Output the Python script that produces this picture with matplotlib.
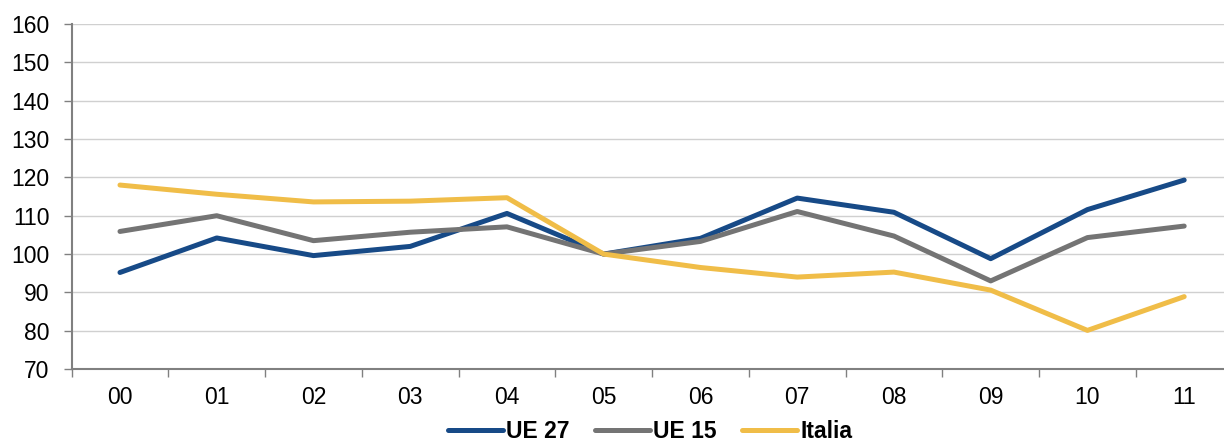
import numpy as np
import matplotlib
matplotlib.use("Agg")
from matplotlib import pyplot as plt

# dati
anni = ["00", "01", "02", "03", "04", "05", "06", "07", "08", "09", "10", "11"]
ue27 = [95.2, 104.2, 99.6, 102.0, 110.6, 100.0, 104.1, 114.6, 110.9, 98.8, 111.6, 119.3]
ue15 = [105.9, 110.0, 103.5, 105.7, 107.1, 100.0, 103.3, 111.1, 104.7, 93.0, 104.3, 107.3]
italia = [118.0, 115.6, 113.6, 113.8, 114.7, 100.0, 96.5, 94.0, 95.3, 90.6, 80.1, 88.9]

plt.rcParams["font.family"] = ["Liberation Sans", "DejaVu Sans"]

fig = plt.figure(figsize=(12.24, 4.41), dpi=100)
ax = fig.add_axes([0.0585, 0.163, 0.9485, 0.7826])

x = np.arange(len(anni))
ax.plot(x, ue27, color="#174a87", lw=3.6, label="UE 27", solid_capstyle="round", zorder=3)
ax.plot(x, ue15, color="#747474", lw=3.6, label="UE 15", solid_capstyle="round", zorder=3)
ax.plot(x, italia, color="#f0bd48", lw=3.6, label="Italia", solid_capstyle="round", zorder=3)

ax.set_xlim(-0.5, len(anni) - 0.5)
ax.set_ylim(70, 160)
ax.set_yticks(range(70, 161, 10))
ax.set_xticks(x)
ax.set_xticklabels(anni)
ax.set_xticks(np.arange(-0.5, len(anni), 1), minor=True)

ax.tick_params(axis="x", which="major", length=0, pad=12, labelsize=16.5)
ax.tick_params(axis="x", which="minor", length=6, color="#808080", width=1)
ax.tick_params(axis="y", length=6, color="#808080", width=1, pad=10, labelsize=16.5)

ax.grid(axis="y", color="#d0d0d0", lw=1)
ax.set_axisbelow(True)
for s in ["top", "right"]:
    ax.spines[s].set_visible(False)
ax.spines["left"].set_color("#808080")
ax.spines["bottom"].set_color("#808080")
ax.spines["left"].set_linewidth(1.5)
ax.spines["bottom"].set_linewidth(1.5)

fig.legend(loc="center", bbox_to_anchor=(0.531, 0.022), ncol=3, frameon=False,
           prop={"weight": "bold", "size": 16.5}, handlelength=2.4, handletextpad=0.15,
           columnspacing=1.1)

plt.savefig("out.png", dpi=100)
